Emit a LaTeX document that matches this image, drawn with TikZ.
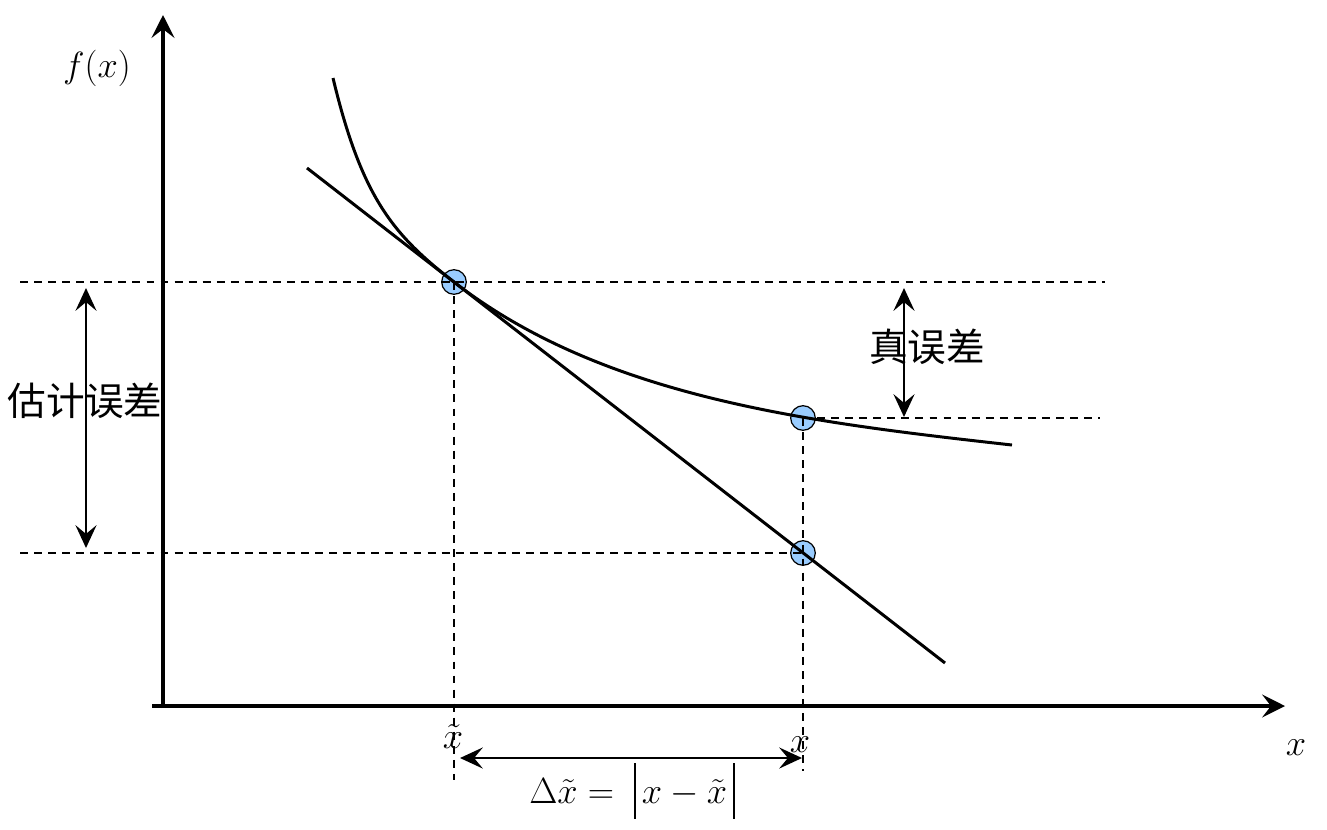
\documentclass[tikz,border=0pt]{standalone}
\usepackage{fontspec}
\newfontfamily\cjk{Noto Sans CJK SC}
\usepackage{tikz}
\usetikzlibrary{positioning, arrows.meta}
\definecolor{dotblue}{HTML}{99CCFF}
\newcommand{\absbar}{\vrule height 1.1em depth 0.42em width 0.9pt}

\begin{document}
\begin{tikzpicture}
    [
        x=0.02cm, y=-0.02cm,
        axis/.style={-{Stealth[length=13pt, width=13pt, inset=5pt]}, line width=1.9pt},
        dim/.style={{Stealth[length=13pt, width=12pt, inset=5pt]}-{Stealth[length=13pt, width=12pt, inset=5pt]}, line width=1.3pt},
        curve/.style={line width=1.7pt},
        guide/.style={dash pattern=on 4.5pt off 3.5pt, line width=0.7pt},
        dot/.style={draw, circle, fill=dotblue, minimum size=14pt, inner sep=0pt, line width=0.7pt},
        lbl/.style={font=\huge},
        cjklbl/.style={font=\fontsize{22}{26}\selectfont\cjk}
    ]
        \useasboundingbox (0,0) rectangle (1327,829);
        % =========================================================================
        % NODES
        % =========================================================================
        % --- Axes ---
        \coordinate (xstart) at (152,706);
        \coordinate (xend) at (1285,706);
        \coordinate (ystart) at (163,708);
        \coordinate (yend) at (163,15);
        \node [lbl] (fx) at (97,68) {$f(x)$};
        \node [lbl] (xlab) at (1296,748) {$x$};
        % --- Points ---
        \node [dot] (P0) at (454,282) {};
        \node [dot] (P1) at (803,418) {};
        \node [dot] (P2) at (803,553) {};
        % --- Curve and tangent ends ---
        \coordinate (C0) at (333,78);
        \coordinate (C1) at (1012,445);
        \coordinate (T0) at (307,168);
        \coordinate (T1) at (945,663);
        % --- Guide ends ---
        \coordinate (gl1) at (20,282);
        \coordinate (gr1) at (1105,282);
        \coordinate (gl2) at (20,553);
        \coordinate (gr2) at (1100,418);
        \coordinate (gb0) at (454,780);
        \coordinate (gb1) at (803,771);
        % --- Error arrows ---
        \coordinate (e0) at (86,288);
        \coordinate (e1) at (86,548);
        \coordinate (t0) at (904,288);
        \coordinate (t1) at (904,417);
        \coordinate (d0) at (460,758);
        \coordinate (d1) at (802,758);
        \node [cjklbl] (est) at (85,401) {估计误差};
        \node [cjklbl] (true) at (927,347) {真误差};
        \node [lbl] (xt) at (453,737) {$\tilde{x}$};
        \node [lbl] (xx) at (800,745) {$x$};
        \node [lbl] (dx) at (632,791)
            {$\Delta\tilde{x}=\;\mathopen{\absbar\,}x-\tilde{x}\mathclose{\,\absbar}$};

        % =========================================================================
        % PATHS
        % =========================================================================
        % --- AXES ---
        \draw [axis] (xstart) -- (xend);
        \draw [axis] (ystart) -- (yend);
        % --- GUIDES ---
        \draw [guide] (gl1) -- (gr1);
        \draw [guide] (gl2) -- (P2.center);
        \draw [guide] (P1.center) -- (gr2);
        \draw [guide] (P0.center) -- (gb0);
        \draw [guide] (P1.center) -- (gb1);
        % --- CURVE AND TANGENT ---
        \draw [curve] (C0) .. controls (362,199) and (394,235.4) .. (P0.center)
            .. controls (604,398.5) and (812,422.6) .. (C1);
        \draw [curve] (T0) -- (T1);
        % --- ERRORS ---
        \draw [dim] (e0) -- (e1);
        \draw [dim] (t0) -- (t1);
        \draw [dim] (d0) -- (d1);
    \end{tikzpicture}
\end{document}
